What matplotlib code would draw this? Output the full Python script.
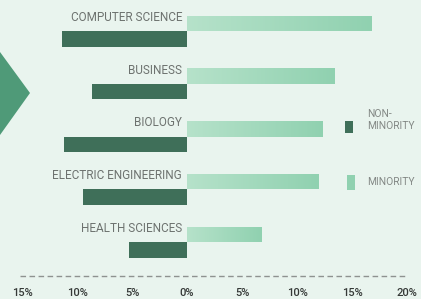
import matplotlib
matplotlib.use("Agg")
import matplotlib.pyplot as plt
import numpy as np
from matplotlib.patches import Polygon, Rectangle
from matplotlib.colors import LinearSegmentedColormap

categories = ["COMPUTER SCIENCE", "BUSINESS", "BIOLOGY", "ELECTRIC ENGINEERING", "HEALTH SCIENCES"]
non_minority = [11.4, 8.6, 11.2, 9.5, 5.3]
minority = [16.8, 13.4, 12.3, 12.0, 6.8]
tick_values = [-15, -10, -5, 0, 5, 10, 15, 20]
tick_labels = ["15%", "10%", "5%", "0%", "5%", "10%", "15%", "20%"]

W, H = 421, 299
BG = "#e9f4ee"
DARK = "#3f6f59"
LIGHT_L = "#b6e2ca"
LIGHT_R = "#90d1b0"
TXT = "#6d726f"

plt.rcParams['font.family'] = ['Roboto', 'DejaVu Sans']

fig = plt.figure(figsize=(W / 100, H / 100), dpi=100, facecolor=BG)
ax = fig.add_axes([0, 0, 1, 1])
ax.set_facecolor(BG)
ax.axis("off")

px_per_pct = 11.0
x0 = 187.0
step = 52.8
y0 = 31.0
xlim = (-x0 / px_per_pct, (W - x0) / px_per_pct)
ylim = (-y0 / step + H / step, -y0 / step)

h = 15.5 / step
ys = np.arange(len(categories))

light_bars = ax.barh(ys - h / 2, minority, height=h, color=LIGHT_R, zorder=2)
ax.barh(ys + h / 2, [-v for v in non_minority], height=h, color=DARK, zorder=2)

cmap = LinearSegmentedColormap.from_list("g", [LIGHT_L, LIGHT_R])
grad = np.linspace(0, 1, 256).reshape(1, -1)
for p in light_bars.patches:
    x, y = p.get_x(), p.get_y()
    w, hh = p.get_width(), p.get_height()
    im = ax.imshow(grad, cmap=cmap, aspect="auto", extent=(x, x + w, y + hh, y), zorder=3)
    im.set_clip_path(p)

ax.set_xlim(*xlim)
ax.set_ylim(*ylim)

for i, name in enumerate(categories):
    ax.text(-0.45, i - h / 2 - 6 / step, name, ha="right", va="center",
            fontsize=8.5, fontweight="normal", color=TXT, zorder=4)

y_dash = -y0 / step + 276 / step
ax.plot([tick_values[0] - 0.2, tick_values[-1] - 0.2], [y_dash, y_dash], ls=(0, (4, 2.5)),
        color="#8e9290", lw=1.0, zorder=1)

y_tick = -y0 / step + 293 / step
for v, lab in zip(tick_values, tick_labels):
    ax.text(v, y_tick, lab, ha="center", va="center", fontsize=8, fontweight="medium",
            color="#353937")

tri = Polygon([(0 / W, 1 - 52 / H), (30 / W, 1 - 93 / H), (0 / W, 1 - 135 / H)],
              closed=True, transform=fig.transFigure, facecolor="#4f9a78", edgecolor="none")
fig.patches.append(tri)

fig.patches.append(Rectangle((345 / W, 1 - 133 / H), 8 / W, 12 / H, transform=fig.transFigure,
                             facecolor=DARK, edgecolor="none"))
fig.patches.append(Rectangle((347 / W, 1 - 190 / H), 8 / W, 15 / H, transform=fig.transFigure,
                             facecolor=LIGHT_R, edgecolor="none"))
fig.text(367 / W, 1 - 120 / H, "NON-\nMINORITY", ha="left", va="center", fontsize=7.4,
         color="#838885", linespacing=1.3)
fig.text(367 / W, 1 - 182 / H, "MINORITY", ha="left", va="center", fontsize=7.4,
         color="#838885")

fig.savefig("out.png", dpi=100, facecolor=BG)
